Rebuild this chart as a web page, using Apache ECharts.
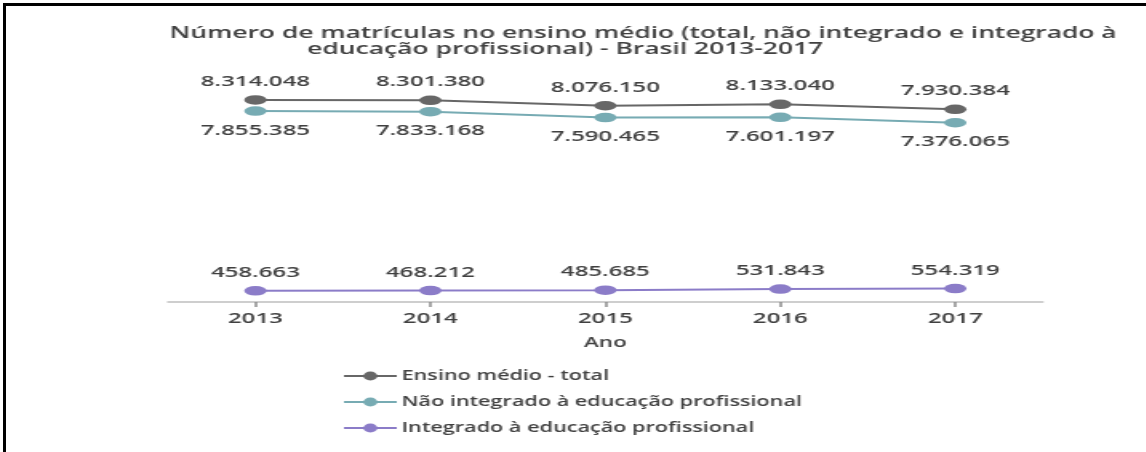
<!DOCTYPE html>
<html>
<head>
<meta charset="utf-8">
<script src="https://cdn.jsdelivr.net/npm/echarts@6/dist/echarts.min.js"></script>
<style>
  html, body { margin: 0; padding: 0; background: #fff; }
  body { width: 1146px; height: 452px; position: relative; overflow: hidden; }
  #frame {
    position: absolute; left: 3px; top: 3px; right: 0; bottom: 0;
    border-top: 3px solid #000; border-left: 3px solid #000;
  }
  /* chart is laid out narrow, then widened horizontally */
  #chart {
    position: absolute; left: 0; top: 0;
    width: 716.25px; height: 452px;
    transform: scaleX(1.6); transform-origin: 0 0;
  }
</style>
</head>
<body>
<div id="frame"></div>
<div id="chart"></div>
<script>
const years = ['2013', '2014', '2015', '2016', '2017'];
const total = [8314048, 8301380, 8076150, 8133040, 7930384];
const naoIntegrado = [7855385, 7833168, 7590465, 7601197, 7376065];
const integrado = [458663, 468212, 485685, 531843, 554319];

const seriesNames = [
  'Ensino médio - total',
  'Não integrado à educação profissional',
  'Integrado à educação profissional'
];
const titleLines = [
  'Número de matrículas no ensino médio (total, não integrado e integrado à',
  'educação profissional) - Brasil 2013-2017'
];

const textColor = '#404040';
const fontFamily = '"Open Sans", "DejaVu Sans", sans-serif';
const weight = 600;

function fmt(v) {
  return String(v).replace(/\B(?=(\d{3})+(?!\d))/g, '.');
}

function lineSeries(name, data, color, labelPos, labelDist) {
  return {
    name: name,
    type: 'line',
    data: data,
    symbol: 'circle',
    symbolSize: [14, 9.5],
    lineStyle: { color: color, width: 2 },
    itemStyle: { color: color },
    label: {
      show: true,
      position: labelPos,
      distance: labelDist,
      formatter: p => fmt(p.value),
      fontSize: 15,
      fontWeight: weight,
      fontFamily: fontFamily,
      color: textColor
    },
    emphasis: { disabled: true },
    animation: false
  };
}

const titleStyle = { fontSize: 16.5, fontWeight: weight, color: textColor, fontFamily: fontFamily };

const chart = echarts.init(document.getElementById('chart'), null, { renderer: 'canvas' });
chart.setOption({
  backgroundColor: 'transparent',
  animation: false,
  title: [
    { text: titleLines[0], left: 106, top: 25, padding: 0, textStyle: titleStyle },
    { text: titleLines[1], left: 192, top: 41, padding: 0, textStyle: titleStyle }
  ],
  legend: {
    orient: 'vertical',
    left: 214,
    top: 369,
    itemWidth: 33,
    itemHeight: 11,
    itemGap: 12,
    padding: 0,
    textStyle: { fontSize: 13.5, fontWeight: weight, color: textColor, fontFamily: fontFamily, padding: [0, 0, 0, -2] },
    data: seriesNames
  },
  grid: { left: 105, right: 64.25, top: 59, bottom: 150 },
  xAxis: {
    type: 'category',
    data: years,
    boundaryGap: true,
    axisLine: { lineStyle: { color: '#bfbfbf', width: 1.5 } },
    axisTick: { show: true, alignWithLabel: true, length: 5, lineStyle: { color: '#8c8c8c', width: 1.5 } },
    axisLabel: { fontSize: 15, fontWeight: weight, color: textColor, margin: 9, fontFamily: fontFamily },
    name: 'Ano',
    nameLocation: 'middle',
    nameGap: 34,
    nameTextStyle: { fontSize: 14, fontWeight: weight, color: textColor, fontFamily: fontFamily }
  },
  yAxis: {
    type: 'value',
    min: 0,
    max: 10000000,
    show: false
  },
  series: [
    lineSeries(seriesNames[0], total, '#676767', 'top', 6),
    lineSeries(seriesNames[1], naoIntegrado, '#77abb3', 'bottom', 7),
    lineSeries(seriesNames[2], integrado, '#8b7cc8', 'top', 6)
  ]
});
</script>
</body>
</html>
